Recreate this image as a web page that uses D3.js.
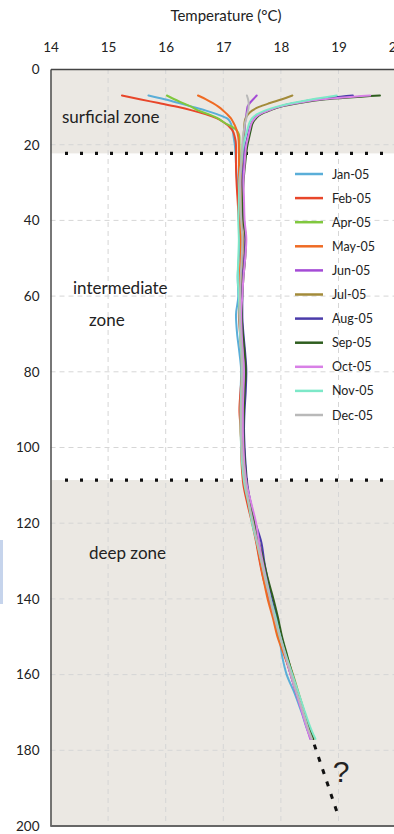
<!DOCTYPE html>
<html>
<head>
<meta charset="utf-8">
<script src="https://cdn.jsdelivr.net/npm/d3@7/dist/d3.min.js"></script>
<style>
  html, body { margin: 0; padding: 0; background: #ffffff; }
  svg { display: block; }
  text { font-family: Lato, "Open Sans", sans-serif; fill: #222; }
</style>
</head>
<body>
<script>
// Depth of each reading (m)
const depths = [7, 8, 9, 10, 11, 12, 13, 14, 16, 18,
  20, 25, 30, 35, 40, 45, 50, 55, 60, 65, 70, 75, 80, 85, 90, 95, 100, 105, 110,
  115, 120, 125, 130, 135, 140, 145, 150, 155, 160, 165, 170, 175, 177];

// Monthly temperature profiles (°C), one value per depth
const tempJan = [15.70, 15.98, 16.23, 16.47, 16.70, 16.90, 17.06, 17.12, 17.16, 17.18,
  17.20, 17.22, 17.24, 17.26, 17.27, 17.29, 17.27, 17.25, 17.26, 17.22, 17.24, 17.28, 17.31, 17.30, 17.29, 17.31, 17.33, 17.35, 17.39,
  17.45, 17.52, 17.58, 17.64, 17.72, 17.79, 17.88, 17.97, 18.02, 18.10, 18.24, 18.36, 18.47, 18.53];
const tempFeb = [15.24, 15.55, 15.88, 16.20, 16.47, 16.70, 16.88, 17.00, 17.15, 17.20,
  17.22, 17.22, 17.23, 17.25, 17.27, 17.30, 17.31, 17.29, 17.28, 17.27, 17.29, 17.31, 17.32, 17.30, 17.28, 17.30, 17.31, 17.32, 17.35,
  17.42, 17.50, 17.57, 17.63, 17.70, 17.80, 17.88, 17.97, 18.07, 18.17, 18.27, 18.38, 18.49, 18.54];
const tempApr = [16.02, 16.15, 16.30, 16.45, 16.57, 16.75, 16.90, 17.00, 17.22, 17.28,
  17.28, 17.29, 17.28, 17.30, 17.31, 17.33, 17.32, 17.30, 17.29, 17.30, 17.31, 17.33, 17.35, 17.34, 17.32, 17.33, 17.34, 17.36, 17.39,
  17.46, 17.53, 17.60, 17.67, 17.74, 17.82, 17.90, 17.97, 18.08, 18.18, 18.28, 18.39, 18.50, 18.56];
const tempMay = [16.56, 16.70, 16.82, 16.92, 17.00, 17.07, 17.13, 17.17, 17.23, 17.26,
  17.27, 17.27, 17.28, 17.29, 17.30, 17.31, 17.30, 17.29, 17.30, 17.31, 17.32, 17.33, 17.33, 17.32, 17.31, 17.30, 17.32, 17.34, 17.38,
  17.44, 17.51, 17.58, 17.64, 17.70, 17.77, 17.86, 17.94, 18.06, 18.18, 18.28, 18.39, 18.50, 18.55];
const tempJun = [17.58, 17.52, 17.46, 17.42, 17.41, 17.40, 17.39, 17.38, 17.37, 17.36,
  17.35, 17.33, 17.32, 17.33, 17.35, 17.38, 17.36, 17.33, 17.31, 17.30, 17.31, 17.33, 17.36, 17.35, 17.33, 17.34, 17.36, 17.38, 17.41,
  17.48, 17.55, 17.61, 17.68, 17.76, 17.84, 17.92, 18.00, 18.08, 18.17, 18.27, 18.37, 18.47, 18.51];
const tempJul = [18.20, 18.02, 17.81, 17.62, 17.50, 17.43, 17.39, 17.37, 17.36, 17.35,
  17.34, 17.32, 17.30, 17.31, 17.32, 17.34, 17.33, 17.31, 17.30, 17.31, 17.32, 17.34, 17.35, 17.33, 17.31, 17.32, 17.34, 17.36, 17.40,
  17.46, 17.53, 17.60, 17.67, 17.75, 17.83, 17.92, 18.00, 18.10, 18.21, 18.31, 18.41, 18.52, 18.57];
const tempAug = [19.25, 18.62, 18.24, 17.96, 17.77, 17.62, 17.55, 17.50, 17.45, 17.42,
  17.39, 17.36, 17.34, 17.35, 17.36, 17.39, 17.37, 17.34, 17.33, 17.33, 17.35, 17.38, 17.40, 17.39, 17.37, 17.36, 17.37, 17.39, 17.42,
  17.48, 17.56, 17.66, 17.71, 17.77, 17.84, 17.92, 18.00, 18.09, 18.19, 18.29, 18.39, 18.50, 18.55];
const tempSep = [19.72, 18.78, 18.32, 17.99, 17.80, 17.65, 17.57, 17.52, 17.48, 17.45,
  17.42, 17.38, 17.35, 17.34, 17.35, 17.39, 17.38, 17.35, 17.33, 17.32, 17.34, 17.37, 17.39, 17.37, 17.36, 17.35, 17.36, 17.38, 17.41,
  17.47, 17.54, 17.62, 17.70, 17.78, 17.87, 17.95, 18.02, 18.11, 18.20, 18.30, 18.40, 18.51, 18.56];
const tempOct = [19.55, 18.72, 18.28, 17.97, 17.78, 17.63, 17.55, 17.50, 17.46, 17.43,
  17.40, 17.37, 17.35, 17.36, 17.37, 17.40, 17.38, 17.35, 17.33, 17.31, 17.32, 17.34, 17.36, 17.35, 17.34, 17.34, 17.35, 17.37, 17.41,
  17.49, 17.57, 17.62, 17.68, 17.75, 17.82, 17.90, 17.99, 18.08, 18.17, 18.27, 18.37, 18.47, 18.52];
const tempNov = [18.97, 18.55, 18.20, 17.92, 17.72, 17.58, 17.50, 17.46, 17.42, 17.38,
  17.35, 17.31, 17.28, 17.27, 17.26, 17.27, 17.26, 17.25, 17.27, 17.28, 17.29, 17.31, 17.32, 17.31, 17.30, 17.30, 17.31, 17.33, 17.37,
  17.44, 17.50, 17.58, 17.66, 17.74, 17.82, 17.91, 17.99, 18.09, 18.20, 18.31, 18.42, 18.54, 18.60];
const tempDec = [17.41, 17.43, 17.44, 17.44, 17.43, 17.41, 17.40, 17.38, 17.36, 17.34,
  17.33, 17.31, 17.29, 17.30, 17.31, 17.33, 17.32, 17.30, 17.29, 17.29, 17.30, 17.32, 17.33, 17.32, 17.31, 17.31, 17.32, 17.35, 17.39,
  17.45, 17.52, 17.59, 17.66, 17.73, 17.81, 17.89, 17.98, 18.08, 18.18, 18.28, 18.39, 18.49, 18.54];

const months = ["Jan-05", "Feb-05", "Apr-05", "May-05", "Jun-05", "Jul-05", "Aug-05", "Sep-05", "Oct-05", "Nov-05", "Dec-05"];
const monthColors = ["#5aaed8", "#e8462a", "#80c83e", "#ef6b24", "#a44bd6", "#a38b3a", "#4b3caa", "#2f5e1f", "#d880e6", "#7de8c8", "#b9b9b9"];
const profiles = [tempJan, tempFeb, tempApr, tempMay, tempJun, tempJul, tempAug, tempSep, tempOct, tempNov, tempDec];

// Axis ticks and zone limits (m)
const tempTicks = [14, 15, 16, 17, 18, 19, 20];
const depthTicks = [0, 20, 40, 60, 80, 100, 120, 140, 160, 180, 200];
const zoneNames = ["surficial zone", "intermediate", "zone", "deep zone"];
const zoneTop = 22.3;      // surficial / intermediate boundary
const zoneBottom = 108.6;  // intermediate / deep boundary
// Extrapolated trend below the last reading
const trendTemp = [18.58, 19.0];
const trendDepth = [178.5, 197.5];

const W = 394, H = 834;
const svg = d3.select("body").append("svg").attr("width", W).attr("height", H);

const x = d3.scaleLinear().domain([14, 20]).range([50.5, 396.1]);
const y = d3.scaleLinear().domain([0, 200]).range([69, 826]);
const x0 = x(14), x1 = x(20);

// zone backgrounds
svg.append("rect").attr("x", x0).attr("y", y(0)).attr("width", x1 - x0).attr("height", y(zoneTop) - y(0)).attr("fill", "#ebe8e3");
svg.append("rect").attr("x", x0).attr("y", y(zoneBottom)).attr("width", x1 - x0).attr("height", y(200) - y(zoneBottom)).attr("fill", "#ebe8e3");

// side tab at the left edge
svg.append("rect").attr("x", 0).attr("y", 540).attr("width", 3).attr("height", 64).attr("fill", "#c6d4ec");

// gridlines
const grid = svg.append("g").attr("stroke", "#d6d6d6").attr("stroke-width", 1).attr("stroke-dasharray", "5,4");
grid.selectAll(".gv").data(tempTicks.slice(1, -1)).join("line")
  .attr("x1", d => x(d)).attr("x2", d => x(d)).attr("y1", y(0)).attr("y2", y(200));
grid.selectAll(".gh").data(depthTicks.slice(1, -1)).join("line")
  .attr("x1", x0).attr("x2", x1).attr("y1", d => y(d)).attr("y2", d => y(d));

// zone boundaries (dotted)
svg.selectAll(".zb").data([zoneTop, zoneBottom]).join("line")
  .attr("x1", x0 + 14.5).attr("x2", x1).attr("y1", d => y(d)).attr("y2", d => y(d))
  .attr("stroke", "#111").attr("stroke-width", 3.2).attr("stroke-dasharray", "3,12");

// profiles
const line = d3.line()
  .x(d => x(d[0]))
  .y(d => y(d[1]))
  .curve(d3.curveMonotoneY);

svg.append("g").selectAll("path").data(profiles).join("path")
  .attr("d", p => line(p.map((t, i) => [t, depths[i]])))
  .attr("fill", "none")
  .attr("stroke", (p, i) => monthColors[i])
  .attr("stroke-width", 2)
  .attr("stroke-linejoin", "round")
  .attr("stroke-linecap", "round");

// extrapolated trend and question mark
svg.append("line")
  .attr("x1", x(trendTemp[0])).attr("y1", y(trendDepth[0]))
  .attr("x2", x(trendTemp[1])).attr("y2", y(trendDepth[1]))
  .attr("stroke", "#111").attr("stroke-width", 3).attr("stroke-dasharray", "5,8");
svg.append("text").attr("x", 341).attr("y", 782).attr("text-anchor", "middle")
  .style("font-family", "'Liberation Sans', Arial, sans-serif").style("font-size", "30px").text("?");

// axes
const yAxis = d3.axisLeft(y).tickValues(depthTicks).tickFormat(d3.format("d")).tickSize(0).tickPadding(11);
const gy = svg.append("g").attr("transform", `translate(${x0},0)`).call(yAxis);
gy.select(".domain").attr("stroke", "#555").attr("stroke-width", 1.6);
gy.selectAll("text").style("font-family", "Lato, sans-serif").style("font-size", "13.5px").attr("fill", "#222");

const xAxis = d3.axisTop(x).tickValues(tempTicks).tickFormat(d3.format("d")).tickSize(0).tickPadding(17);
const gx = svg.append("g").attr("transform", `translate(0,${y(0)})`).call(xAxis);
gx.select(".domain").attr("stroke", "#444").attr("stroke-width", 1.6);
gx.selectAll("text").style("font-family", "Lato, sans-serif").style("font-size", "13.5px").attr("fill", "#222");

// bottom frame
svg.append("line").attr("x1", x0).attr("x2", x1).attr("y1", y(200)).attr("y2", y(200))
  .attr("stroke", "#666").attr("stroke-width", 2);

// axis title
svg.append("text").attr("x", 226).attr("y", 21).attr("text-anchor", "middle")
  .style("font-size", "15px").text("Temperature (°C)");

// zone labels
const zoneLabelPos = [[62, 123], [73, 294], [89, 326], [89, 559]];
svg.selectAll(".zl").data(zoneNames).join("text")
  .attr("x", (d, i) => zoneLabelPos[i][0]).attr("y", (d, i) => zoneLabelPos[i][1])
  .style("font-size", "17px").attr("fill", "#111").text(d => d);

// legend
const lg = svg.append("g").attr("transform", "translate(295,174)");
const rows = lg.selectAll("g").data(months).join("g").attr("transform", (d, i) => `translate(0,${i * 24.1})`);
rows.append("line").attr("x1", 0).attr("x2", 28).attr("y1", 0).attr("y2", 0)
  .attr("stroke", (d, i) => monthColors[i]).attr("stroke-width", 2.5);
rows.append("text").attr("x", 37).attr("y", 4.5).style("font-size", "12.5px").attr("fill", "#333").text(d => d);
</script>
</body>
</html>
